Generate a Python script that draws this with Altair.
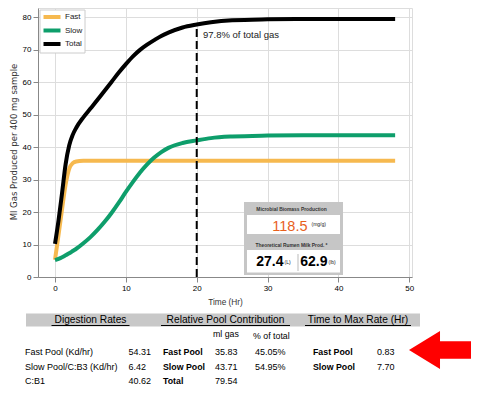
import altair as alt
import pandas as pd

# ---------------- data ----------------
time = [0, 0.5, 1, 1.5, 2, 2.5, 3, 4, 5, 6, 7, 8, 9, 10, 11, 12, 13, 14, 15, 16, 18, 20, 22, 25, 30, 35, 40, 48]
fast = [5.3, 13.0, 21.0, 28.5, 33.3, 35.1, 35.6, 35.8, 35.83, 35.83, 35.83, 35.83, 35.83, 35.83,
        35.83, 35.83, 35.83, 35.83, 35.83, 35.83, 35.83, 35.83, 35.83, 35.83, 35.83, 35.83, 35.83, 35.83]
slow = [5.2, 5.6, 6.1, 6.7, 7.3, 8.0, 8.7, 10.4, 12.3, 14.5, 17.0, 19.8, 22.9, 26.2,
        29.3, 32.2, 34.7, 36.8, 38.5, 39.8, 41.3, 42.1, 42.8, 43.3, 43.6, 43.7, 43.71, 43.71]
total = [10.2, 17.5, 26.0, 34.8, 40.5, 43.8, 46.0, 49.2, 51.9, 54.6, 57.4, 60.2, 63.0, 65.6,
         68.0, 70.0, 71.6, 73.0, 74.3, 75.3, 76.9, 77.8, 78.5, 79.1, 79.4, 79.5, 79.54, 79.54]
series_names = ["Fast", "Slow", "Total"]
x_ticks = [0, 10, 20, 30, 40, 50]
y_ticks = [0, 10, 20, 30, 40, 50, 60, 70, 80]
marker_time = 20
marker_top = 77.0
marker_label = "97.8% of total gas"
y_title = "Ml Gas Produced per 400 mg sample"
x_title = "Time (Hr)"

biomass_title = "Microbial Biomass Production"
biomass_value = "118.5"
biomass_unit = "(mg/g)"
milk_title = "Theoretical Rumen Milk Prod. *"
milk_l = "27.4"
milk_l_unit = "(L)"
milk_lb = "62.9"
milk_lb_unit = "(lb)"

headers = ["Digestion Rates", "Relative Pool Contribution", "Time to Max Rate (Hr)"]
dig_labels = ["Fast Pool (Kd/hr)", "Slow Pool/C:B3 (Kd/hr)", "C:B1"]
dig_values = ["54.31", "6.42", "40.62"]
pool_cols = ["ml gas", "% of total"]
pool_labels = ["Fast Pool", "Slow Pool", "Total"]
pool_ml = ["35.83", "43.71", "79.54"]
pool_pct = ["45.05%", "54.95%"]
tmax_labels = ["Fast Pool", "Slow Pool"]
tmax_values = ["0.83", "7.70"]

# ---------------- styling / layout ----------------
ORANGE = "#F6B94F"
GREEN = "#0E9E6B"
BLACK = "#000000"
ARIAL = "Liberation Sans, Arial, sans-serif"
DEJAVU = "DejaVu Sans"
OX, OY = 38, 8          # screen position of the plot's top-left corner
W, H = 374, 269

xs = alt.Scale(domain=[-2.4, 50.38], nice=False, zero=False)
ys = alt.Scale(domain=[0, 82.9], nice=False, zero=False)

n = len(time)
df = pd.DataFrame({
    "t": time * 3,
    "v": fast + slow + total,
    "series": [series_names[0]] * n + [series_names[1]] * n + [series_names[2]] * n,
})

lines = alt.Chart(df).mark_line(strokeWidth=4, interpolate="monotone").encode(
    x=alt.X("t:Q", scale=xs, axis=alt.Axis(values=x_ticks, title=x_title, grid=True,
                                           labelFont=ARIAL, labelFontSize=8, labelPadding=2.5,
                                           titleFont=ARIAL, titleFontSize=8.3, titleFontWeight="normal",
                                           titlePadding=5, titleColor="#333")),
    y=alt.Y("v:Q", scale=ys, axis=alt.Axis(values=y_ticks, title=None, grid=True,
                                           labelFont=ARIAL, labelFontSize=8, labelPadding=2)),
    color=alt.Color("series:N", scale=alt.Scale(domain=series_names, range=[ORANGE, GREEN, BLACK]),
                    legend=None),
    detail="series:N",
)

rule_df = pd.DataFrame({"t": [marker_time], "y0": [0], "y1": [marker_top]})
vrule = alt.Chart(rule_df).mark_rule(color="black", strokeWidth=2, strokeDash=[8, 4]).encode(
    x=alt.X("t:Q", scale=xs, axis=None),
    y=alt.Y("y0:Q", scale=ys, axis=None),
    y2="y1:Q",
)


def pix(items):
    d = pd.DataFrame(items, columns=["label", "px", "py"])
    d["px"] = d["px"] - OX
    d["py"] = d["py"] - OY
    return d


def txt(items, size, weight="normal", align="left", color="#000", font=ARIAL, angle=0):
    return alt.Chart(pix(items)).mark_text(
        align=align, baseline="middle", fontSize=size, fontWeight=weight,
        color=color, font=font, angle=angle
    ).encode(
        x=alt.X("px:Q", scale=None, axis=None),
        y=alt.Y("py:Q", scale=None, axis=None),
        text="label:N",
    )


def rects(items, fill, stroke=None, sw=0):
    d = pd.DataFrame(items, columns=["x1", "x2", "y1", "y2"])
    d[["x1", "x2"]] -= OX
    d[["y1", "y2"]] -= OY
    kw = dict(color=fill)
    if stroke:
        kw.update(stroke=stroke, strokeWidth=sw)
    return alt.Chart(d).mark_rect(**kw).encode(
        x=alt.X("x1:Q", scale=None, axis=None), x2="x2:Q",
        y=alt.Y("y1:Q", scale=None, axis=None), y2="y2:Q",
    )


def hlines(items, width):
    d = pd.DataFrame(items, columns=["x1", "x2", "y", "c"])
    d[["x1", "x2"]] -= OX
    d["y"] -= OY
    return alt.Chart(d).mark_rule(strokeWidth=width).encode(
        x=alt.X("x1:Q", scale=None, axis=None), x2="x2:Q",
        y=alt.Y("y:Q", scale=None, axis=None),
        color=alt.Color("c:N", scale=None),
    )


# legend (manual, matplotlib style)
legend_box = rects([(40, 85, 10, 53)], "white", "#cccccc", 1)
legend_sym = hlines([(43.5, 60.5, 17, ORANGE), (43.5, 60.5, 30.5, GREEN), (43.5, 60.5, 44, BLACK)], 4)
legend_txt = txt([(series_names[0], 65, 17), (series_names[1], 65, 30.5), (series_names[2], 65, 44)], 8,
                 color="#222")

marker_txt = txt([(marker_label, 203, 35)], 9.5, color="#222")
ytitle = txt([(y_title, 14, 142)], 8.5, align="center", color="#333", font=DEJAVU, angle=270)

# inset box
inset_bg = rects([(244, 343, 202, 275)], "#c6c6c6")
inset_white = rects([(247, 340, 215, 234), (247, 340, 250, 272.5)], "white")
inset_titles = txt([(biomass_title, 291.5, 209.5), (milk_title, 291.5, 245.5)], 4.9, weight="bold",
                   align="center", color="#333")
inset_val = txt([(biomass_value, 307.5, 226.5)], 14.5, align="right", color="#E8601C")
inset_small = txt([(biomass_unit, 311.5, 223.5), (milk_l_unit, 284.5, 262), (milk_lb_unit, 328.5, 262)], 5,
                  color="#222")
inset_bold = txt([(milk_l, 283.5, 262), (milk_lb, 327.5, 262)], 14, weight="bold", align="right")
inset_sep = alt.Chart(pd.DataFrame({"x": [298 - OX], "y1": [254 - OY], "y2": [271 - OY]})).mark_rule(
    color="#bbbbbb", strokeWidth=1).encode(
    x=alt.X("x:Q", scale=None, axis=None), y=alt.Y("y1:Q", scale=None, axis=None), y2="y2:Q")

# table
band = rects([(26, 420, 313.5, 326.5)], "#c8c8c8")
head_txt = txt([(headers[0], 90.5, 319.5), (headers[1], 225.5, 319.5), (headers[2], 358, 319.5)], 10.2,
               align="center")
underl = hlines([(51.5, 129.5, 325.5, "#000"), (161, 290, 325.5, "#000"), (305, 411, 325.5, "#000")], 1)
rows_y = [352, 367, 381]
sub_txt = txt([(pool_cols[0], 213, 334), (pool_cols[1], 253, 336)], 8.8)
body_norm = txt(
    [(dig_labels[i], 25, rows_y[i]) for i in range(3)]
    + [(dig_values[i], 128.5, rows_y[i]) for i in range(3)]
    + [(pool_ml[i], 215, rows_y[i]) for i in range(3)]
    + [(pool_pct[i], 255, rows_y[i]) for i in range(2)]
    + [(tmax_values[i], 377, rows_y[i]) for i in range(2)],
    9)
body_bold = txt(
    [(pool_labels[i], 163, rows_y[i]) for i in range(3)]
    + [(tmax_labels[i], 313, rows_y[i]) for i in range(2)],
    8.8, weight="bold")

arrow_path = "M -1 0 L -0.114 -0.543 L -0.114 -0.251 L 1 -0.251 L 1 0.251 L -0.114 0.251 L -0.114 0.543 Z"
arrow = alt.Chart(pd.DataFrame({"x": [444 - OX], "y": [350 - OY]})).mark_point(
    shape=arrow_path, size=4900, filled=True, color="#FF0000", opacity=1, strokeWidth=0).encode(
    x=alt.X("x:Q", scale=None, axis=None), y=alt.Y("y:Q", scale=None, axis=None))

chart = alt.layer(
    lines, vrule, legend_box, legend_sym, legend_txt, marker_txt, ytitle,
    inset_bg, inset_white, inset_titles, inset_val, inset_small, inset_bold, inset_sep,
    band, head_txt, underl, sub_txt, body_norm, body_bold, arrow,
).resolve_scale(x="independent", y="independent", color="independent").properties(
    width=W, height=H,
    autosize=alt.AutoSizeParams(type="none"),
    padding={"left": OX - 8, "top": OY - 8, "right": 463 - (OX - 8) - W, "bottom": 377 - (OY - 8) - H},
).configure_view(stroke="#222", strokeWidth=1).configure_axis(
    gridColor="#d9d9d9", gridWidth=1, tickColor="#333", tickSize=4, domain=False,
    labelColor="#333",
).configure(background="white")

chart.save("out.html", embed_options={"renderer": "svg", "actions": False})
